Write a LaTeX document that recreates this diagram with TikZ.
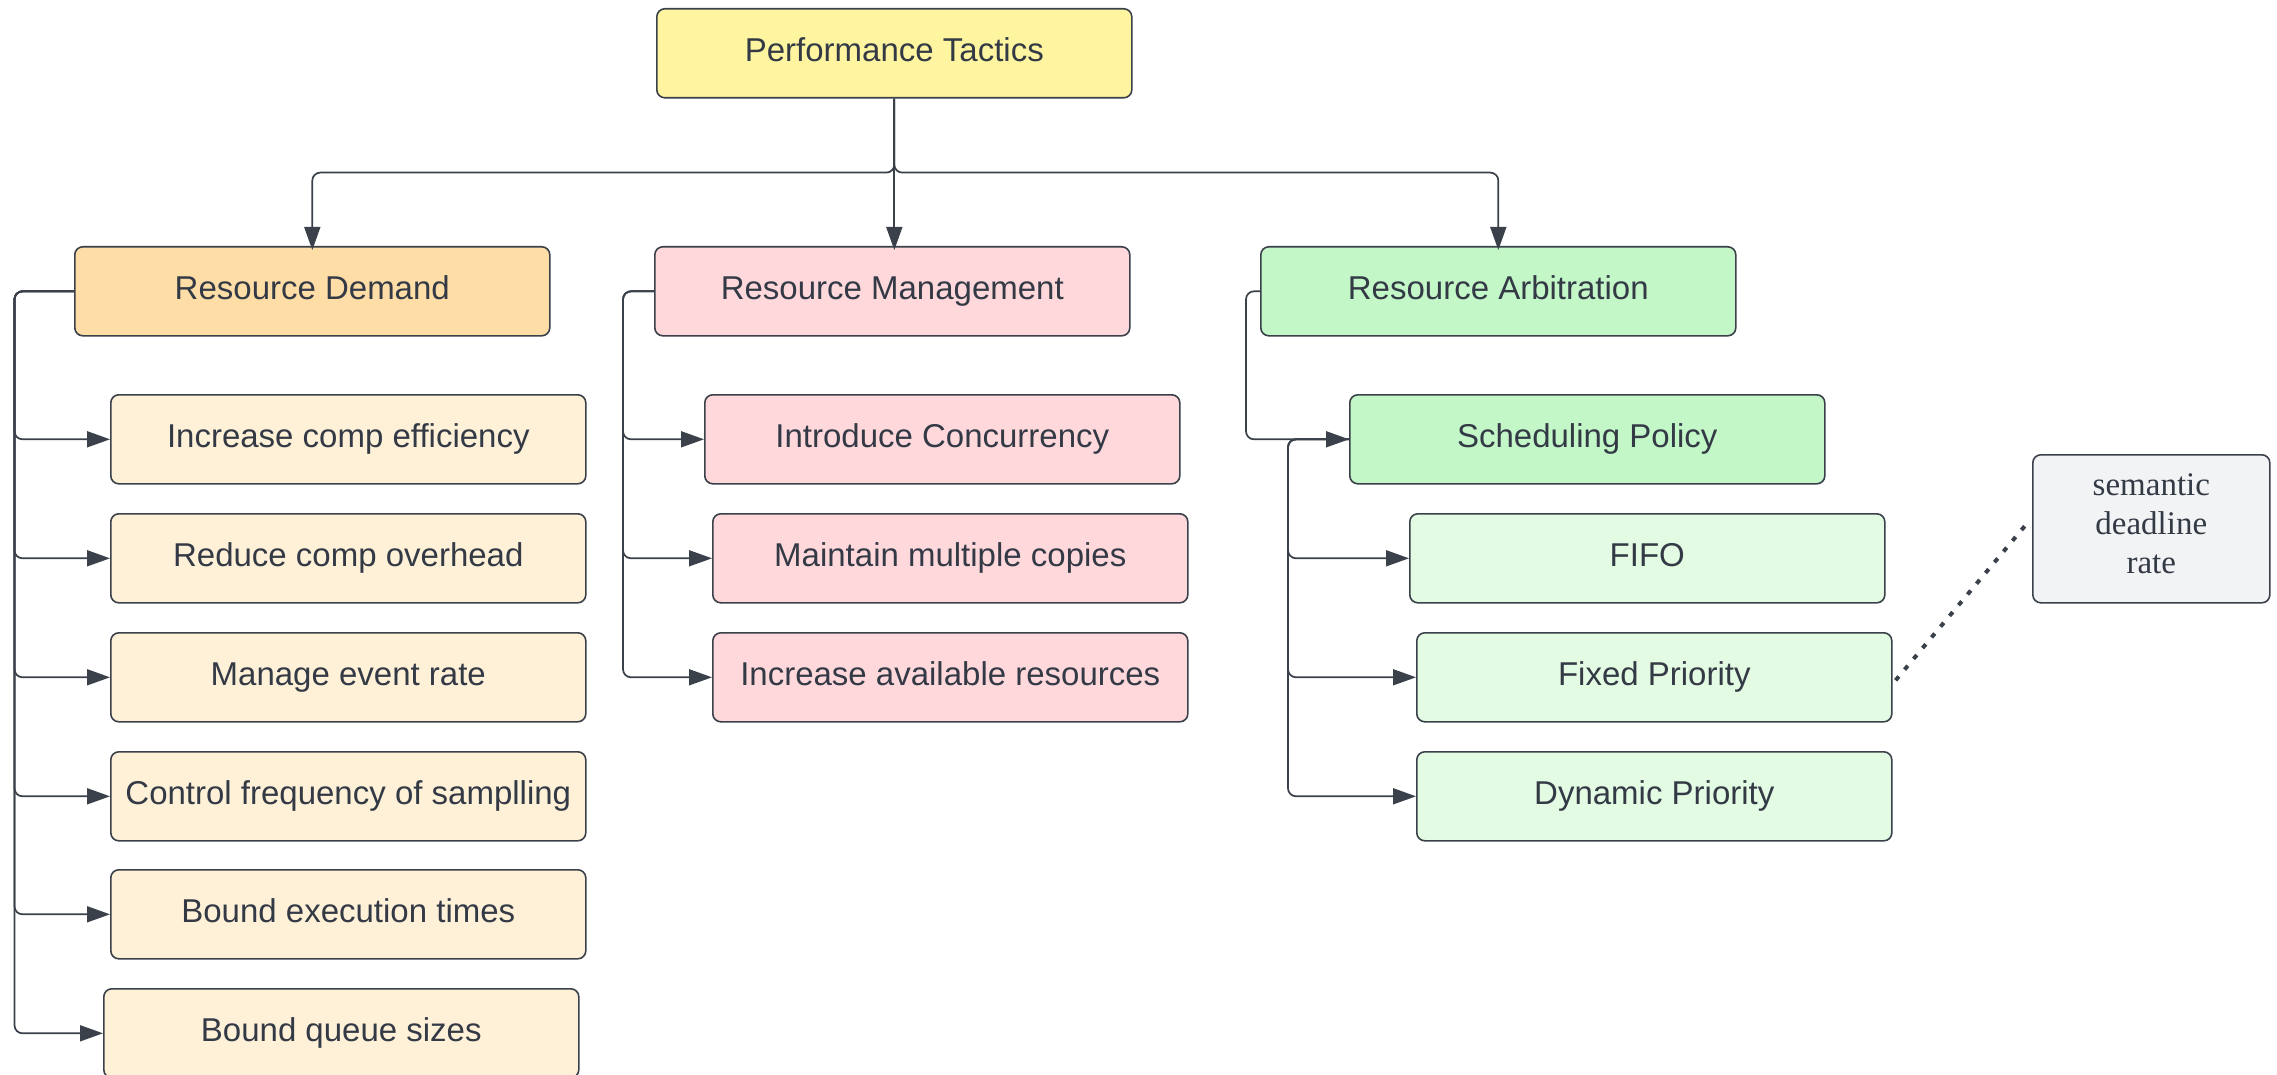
\documentclass[tikz,border=0pt]{standalone}
\usepackage{fontspec}
\setmainfont{Liberation Sans}
\newfontfamily\notefont{Liberation Serif}
\usetikzlibrary{arrows.meta}
\definecolor{edge}{RGB}{58,65,74}
\definecolor{txt}{RGB}{51,58,69}
\definecolor{cPT}{RGB}{255,245,160}
\definecolor{cRD}{RGB}{255,221,166}
\definecolor{cRDc}{RGB}{255,241,216}
\definecolor{cRM}{RGB}{255,216,220}
\definecolor{cRA}{RGB}{195,247,200}
\definecolor{cRAc}{RGB}{227,250,227}
\definecolor{cNote}{RGB}{242,243,245}
\tikzset{
  box/.style={draw=edge, line width=1.6pt, rounded corners=8pt, inner sep=0pt,
    anchor=north west, text=txt, font=\fontsize{33}{40}\selectfont,
    text height=24pt, text depth=8pt,
    minimum width=475pt, minimum height=89pt},
  conn/.style={draw=edge, line width=1.7pt, rounded corners=8pt,
    -{Triangle[length=23pt,width=16pt]}},
  dotconn/.style={draw=edge, line width=4pt, dash pattern=on 5pt off 9pt}
}
\begin{document}
\begin{tikzpicture}[x=1pt,y=-1pt]
\useasboundingbox (0,0) rectangle (2277,1075);
% top
\node[box, fill=cPT] (pt) at (656,8) {Performance Tactics};
% level 1
\node[box, fill=cRD] (rd) at (74,246) {Resource Demand};
\node[box, fill=cRM] (rm) at (654,246) {Resource Management};
\node[box, fill=cRA] (ra) at (1260,246) {Resource Arbitration};
% demand children
\node[box, fill=cRDc] (d1) at (110,394) {Increase comp efficiency};
\node[box, fill=cRDc] (d2) at (110,513) {Reduce comp overhead};
\node[box, fill=cRDc] (d3) at (110,632) {Manage event rate};
\node[box, fill=cRDc] (d4) at (110,751) {Control frequency of samplling};
\node[box, fill=cRDc] (d5) at (110,869) {Bound execution times};
\node[box, fill=cRDc] (d6) at (103,988) {Bound queue sizes};
% management children
\node[box, fill=cRM] (m1) at (704,394) {Introduce Concurrency};
\node[box, fill=cRM] (m2) at (712,513) {Maintain multiple copies};
\node[box, fill=cRM] (m3) at (712,632) {Increase available resources};
% arbitration children
\node[box, fill=cRA] (sp) at (1349,394) {Scheduling Policy};
\node[box, fill=cRAc] (s1) at (1409,513) {FIFO};
\node[box, fill=cRAc] (s2) at (1416,632) {Fixed Priority};
\node[box, fill=cRAc] (s3) at (1416,751) {Dynamic Priority};
% note
\node[box, fill=cNote, minimum width=237pt, minimum height=148pt,
  font=\notefont\fontsize{33}{39}\selectfont, align=center,
  text height=, text depth=] (note) at (2032,454) {semantic\\deadline\\rate\rule[-10pt]{0pt}{10pt}};
% top connectors
\draw[conn] (pt.south) -- ++(0,74) -| ([yshift=-4pt]rd.north);
\draw[conn] (pt.south) -- ([yshift=-4pt]pt.south |- rm.north);
\draw[conn] (pt.south) -- ++(0,74) -| ([yshift=-4pt]ra.north);
% demand connectors
\foreach \c in {d1,d2,d3,d4,d5,d6}{
  \draw[conn] (rd.west) -- ++(-59.5,0) |- (\c.west);
}
% management connectors
\foreach \c in {m1,m2,m3}{
  \draw[conn] (rm.west) -- ++(-31,0) |- (\c.west);
}
% arbitration connectors
\draw[conn] (ra.west) -- ++(-14,0) |- (sp.west);
\foreach \c in {s1,s2,s3}{
  \draw[conn] (sp.west) -- ++(-61,0) |- (\c.west);
}
% dotted
\draw[dotconn] ([xshift=3pt,yshift=-3pt]s2.east) -- ([xshift=-2pt,yshift=9pt]note.west);
\end{tikzpicture}
\end{document}
